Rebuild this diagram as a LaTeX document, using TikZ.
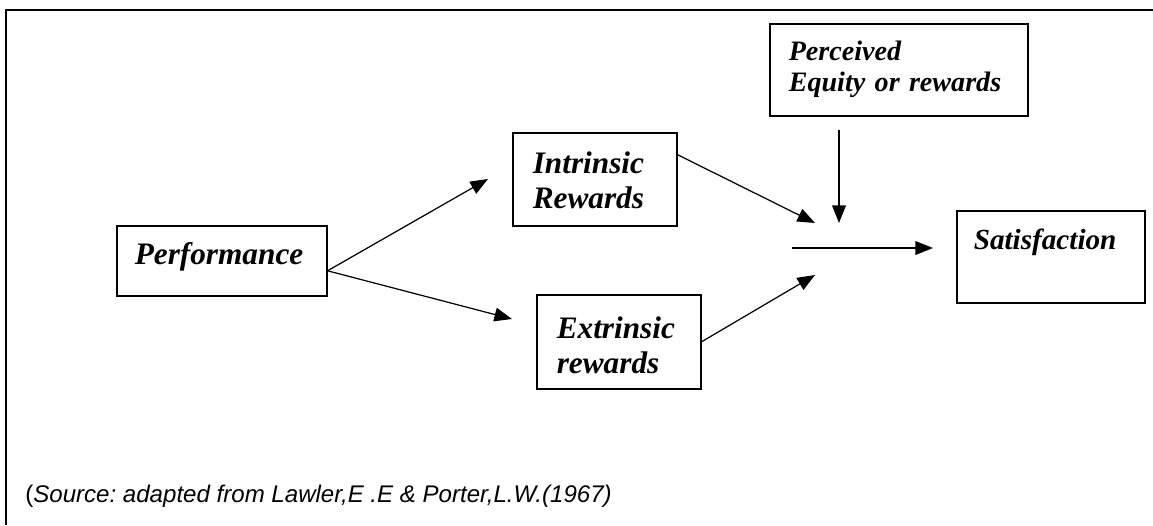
\documentclass[tikz,border=0pt]{standalone}
\usepackage{fontspec}
\setmainfont{Liberation Serif}
\setsansfont{Liberation Sans}
\usetikzlibrary{calc,arrows.meta}
\frenchspacing
\tikzset{
  box/.style={draw=black, line width=0.9pt, anchor=north west, align=left,
    font=\fontsize{17.8pt}{20pt}\selectfont\bfseries\itshape, text height=0.41cm},
  smallbox/.style={box, font=\fontsize{16pt}{17.6pt}\selectfont\bfseries\itshape, text height=0.37cm},
  arr/.style={-{Triangle[length=10pt,width=7.8pt]}, line width=0.7pt},
  frame/.style={draw=black, line width=1.4pt},
  source/.style={anchor=base west, inner sep=0pt, font=\fontsize{13.7pt}{16pt}\selectfont\sffamily}
}

\begin{document}
\begin{tikzpicture}[x=0.02cm, y=-0.02cm]
  \useasboundingbox (0,0) rectangle (1153,525);
  \draw[frame] (6,525) -- (6,10) -- (1153,10);

  % boxes (pixel grid, top left corners)
  \node[box, inner xsep=0.36cm, inner ysep=0.36cm, text width=3.48cm, text depth=0.27cm] (perf) at (116,225) {Performance};
  \node[box, inner xsep=0.4cm, inner ysep=0.4cm, text width=2.48cm, text depth=0.65cm] (intr) at (512,132) {Intrinsic\\Rewards};
  \node[box, inner xsep=0.4cm, inner ysep=0.46cm, text width=2.48cm, text depth=0.55cm] (extr) at (536,294) {Extrinsic\\rewards};
  \node[smallbox, inner xsep=0.38cm, inner ysep=0.36cm, text width=4.4cm, text depth=0.75cm] (perc) at (769,23) {Perceived\\Equity or rewards};
  \node[smallbox, font=\fontsize{16.6pt}{19pt}\selectfont\bfseries\itshape, inner xsep=0.34cm, inner ysep=0.4cm,
    text width=3.08cm, text depth=0.68cm] (sat) at (956,210) {Satisfaction};

  % free arrow ends
  \coordinate (intip) at (488,179);
  \coordinate (extip) at (512,319);
  \coordinate (jtop) at (815,223);
  \coordinate (jbot) at (815,275);
  \coordinate (pstart) at (839,130);
  \coordinate (pend) at (839,223);
  \coordinate (hstart) at (792,248);
  \coordinate (hend) at (933,248);

  \draw[arr] ($(perf.east)+(0,10)$) -- (intip);
  \draw[arr] ($(perf.east)+(0,10)$) -- (extip);
  \draw[arr] ($(intr.north east)!0.24!(intr.south east)$) -- (jtop);
  \draw[arr] (extr.east) -- (jbot);
  \draw[arr] (pstart) -- (pend);
  \draw[arr] (hstart) -- (hend);

  \node[source] (src) at (25,502) {(\textit{Source: adapted from Lawler,E .E \& Porter,L.W.(1967)}};
\end{tikzpicture}
\end{document}
